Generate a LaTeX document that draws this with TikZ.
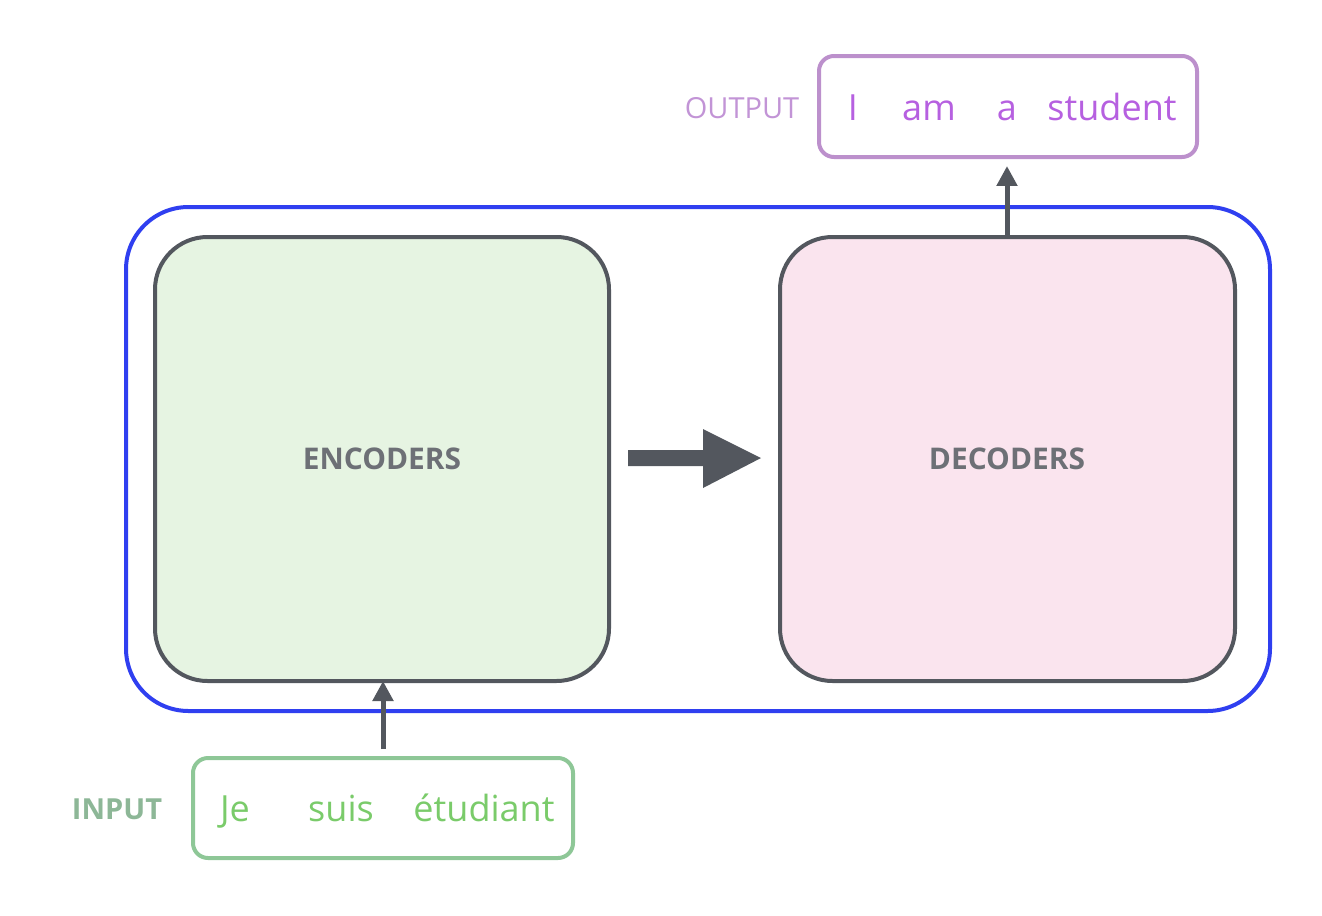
\documentclass[tikz,border=0pt]{standalone}
\usepackage{fontspec}
\setmainfont{Open Sans}
\usetikzlibrary{arrows.meta}
\definecolor{blueline}{HTML}{2F3FF0}
\definecolor{grayline}{HTML}{53575E}
\definecolor{encfill}{HTML}{E6F4E2}
\definecolor{decfill}{HTML}{FAE4EE}
\definecolor{outline}{HTML}{BC90CC}
\definecolor{outlabel}{HTML}{C294D6}
\definecolor{outtext}{HTML}{B660E0}
\definecolor{inline}{HTML}{8EC797}
\definecolor{inlabel}{HTML}{8DB797}
\definecolor{intext}{HTML}{7ACB6A}
\tikzset{
  px/.style={x=0.02cm,y=-0.02cm},
  stackbox/.style={draw=grayline, line width=0.08cm, rounded corners=1.05cm},
  wordbox/.style={line width=0.08cm, rounded corners=0.3cm},
  boxlabel/.style={font=\fontsize{17}{20}\selectfont\bfseries, text=grayline!85},
  sidelabel/.style={anchor=base, font=\fontsize{16.5}{20}\selectfont},
  word/.style={anchor=base, font=\fontsize{20.5}{24}\selectfont},
  uparrow/.style={draw=grayline, line width=0.1cm, -{Triangle[length=0.4cm,width=0.4cm]}},
}
\begin{document}
\begin{tikzpicture}[px]
\useasboundingbox (0,0) rectangle (1322,916);
% outer container
\draw[blueline, line width=0.08cm, rounded corners=1.25cm] (126,207) rectangle (1270,711);
% encoder / decoder
\draw[stackbox, fill=encfill] (155,237) rectangle (609,681);
\node[boxlabel] (enc) at (382,459) {ENCODERS};
\draw[stackbox, fill=decfill] (780,237) rectangle (1235,681);
\node[boxlabel] (dec) at (1007,459) {DECODERS};
\coordinate (encR) at (628,458);
\coordinate (decL) at (761,458);
\fill[grayline] (628,450) -- (703,450) -- (703,429) -- (761,458) -- (703,488) -- (703,466) -- (628,466) -- cycle;
% output
\draw[wordbox, draw=outline] (819,56) rectangle (1197,157);
\node[sidelabel, text=outlabel] (outlab) at (742,118) {OUTPUT};
\node[word, text=outtext] (w1) at (853,120) {I};
\node[word, text=outtext] (w2) at (929,120) {am};
\node[word, text=outtext] (w3) at (1007,120) {a};
\node[word, text=outtext] (w4) at (1112,120) {student};
\coordinate (decT) at (1007,237);
\coordinate (outB) at (1007,166);
\draw[uparrow] (decT) -- (outB);
% input
\draw[wordbox, draw=inline] (193,758) rectangle (573,858);
\node[sidelabel, text=inlabel, font=\fontsize{16.5}{20}\selectfont\bfseries] (inlab) at (117,819) {INPUT};
\node[word, text=intext] (i1) at (235,821) {Je};
\node[word, text=intext] (i2) at (341,821) {suis};
\node[word, text=intext] (i3) at (484,821) {étudiant};
\coordinate (inT) at (383,749);
\coordinate (encB) at (383,681);
\draw[uparrow] (inT) -- (encB);
\end{tikzpicture}
\end{document}
